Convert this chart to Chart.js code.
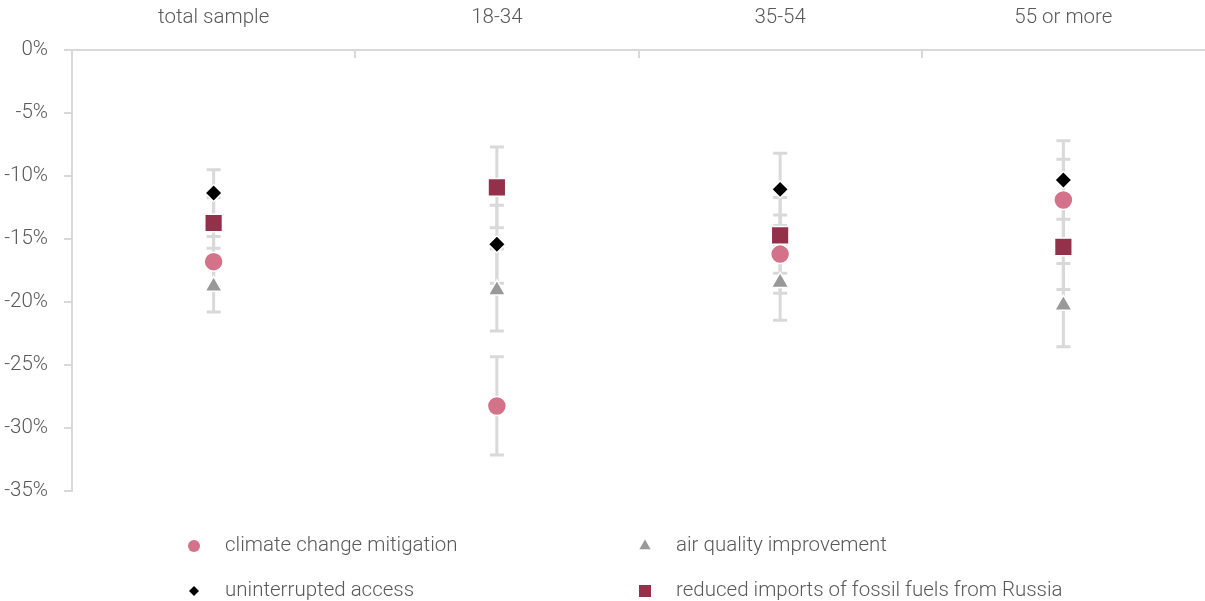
<!DOCTYPE html>
<html>
<head>
<meta charset="utf-8">
<script src="https://cdn.jsdelivr.net/npm/chart.js@4/dist/chart.umd.min.js"></script>
<style>
  html, body { margin: 0; padding: 0; background: #ffffff; overflow: hidden; }
  canvas { display: block; }
</style>
</head>
<body>
<canvas id="chart" width="1205" height="601"></canvas>
<script>
// Age groups along the top axis
const categories = ['total sample', '18-34', '35-54', '55 or more'];

// Point estimates (%) and half-widths of the confidence intervals
const climateMitigation = [-16.8, -28.25, -16.2, -11.9];
const climateMitigationErr = [2.0, 3.9, 3.1, 3.22];

const airQuality = [-18.75, -19.05, -18.45, -20.25];
const airQualityErr = [2.05, 3.25, 3.0, 3.3];

const uninterruptedAccess = [-11.35, -15.42, -11.06, -10.32];
const uninterruptedAccessErr = [1.85, 3.1, 2.86, 3.12];

const russiaImports = [-13.73, -10.9, -14.71, -15.63];
const russiaImportsErr = [2.0, 3.2, 3.0, 3.37];

const yTicks = [0, -5, -10, -15, -20, -25, -30, -35];

const FONT = 'Roboto';
const TEXT = '#595959';
const RULE = '#d9d9d9';

// Grey whiskers drawn behind the markers
const errorBars = {
  id: 'errorBars',
  beforeDatasetsDraw(chart) {
    const { ctx, scales: { x, y } } = chart;
    ctx.save();
    ctx.strokeStyle = RULE;
    ctx.lineWidth = 3;
    chart.data.datasets.forEach((ds, i) => {
      if (!chart.isDatasetVisible(i)) return;
      ds.data.forEach((v, j) => {
        const e = ds.errors[j];
        const px = x.getPixelForValue(j);
        const top = y.getPixelForValue(v + e);
        const bot = y.getPixelForValue(v - e);
        ctx.beginPath();
        ctx.moveTo(px, top); ctx.lineTo(px, bot);
        ctx.moveTo(px - 7, top); ctx.lineTo(px + 7, top);
        ctx.moveTo(px - 7, bot); ctx.lineTo(px + 7, bot);
        ctx.stroke();
      });
    });
    ctx.restore();
  }
};

// Short separators between the age groups, hanging below the top rule
const groupTicks = {
  id: 'groupTicks',
  afterDraw(chart) {
    const { ctx, chartArea, scales: { x } } = chart;
    ctx.save();
    ctx.strokeStyle = RULE;
    ctx.lineWidth = 2;
    for (let j = 1; j < categories.length; j++) {
      const px = Math.round((x.getPixelForValue(j - 1) + x.getPixelForValue(j)) / 2);
      ctx.beginPath();
      ctx.moveTo(px, chartArea.top);
      ctx.lineTo(px, chartArea.top + 8);
      ctx.stroke();
    }
    ctx.restore();
  }
};

function drawMarker(ctx, style, r, cx, cy, color) {
  ctx.fillStyle = color;
  ctx.beginPath();
  if (style === 'circle') {
    ctx.arc(cx, cy, r, 0, Math.PI * 2);
  } else if (style === 'triangle') {
    ctx.moveTo(cx, cy - r);
    ctx.lineTo(cx + r * 0.866, cy + r * 0.5);
    ctx.lineTo(cx - r * 0.866, cy + r * 0.5);
    ctx.closePath();
  } else if (style === 'rectRot') {
    ctx.moveTo(cx - r, cy); ctx.lineTo(cx, cy - r);
    ctx.lineTo(cx + r, cy); ctx.lineTo(cx, cy + r);
    ctx.closePath();
  } else {
    ctx.rect(cx - r, cy - r, 2 * r, 2 * r);
  }
  ctx.fill();
}

// Two-column legend under the plot
const gridLegend = {
  id: 'gridLegend',
  afterDraw(chart) {
    const { ctx } = chart;
    const cols = [194, 645];
    const rows = [546, 591];
    const sizes = { circle: 6, triangle: 6.5, rectRot: 5, rect: 6 };
    ctx.save();
    ctx.font = '300 20.5px ' + FONT;
    ctx.textBaseline = 'middle';
    ctx.textAlign = 'left';
    chart.data.datasets.forEach((ds, i) => {
      const cx = cols[i % 2];
      const cy = rows[Math.floor(i / 2)];
      drawMarker(ctx, ds.pointStyle, sizes[ds.pointStyle], cx, cy, ds.backgroundColor);
      ctx.fillStyle = TEXT;
      ctx.fillText(ds.label, cx + 31, cy);
    });
    ctx.restore();
  }
};

function series(label, data, errors, color, style, radius) {
  return {
    label, data, errors,
    backgroundColor: color,
    borderColor: '#ffffff',
    borderWidth: 1.5,
    pointStyle: style,
    pointRadius: radius,
    pointHoverRadius: radius,
    showLine: false
  };
}

new Chart(document.getElementById('chart'), {
  type: 'line',
  data: {
    labels: categories,
    datasets: [
      series('climate change mitigation', climateMitigation, climateMitigationErr, '#d4728a', 'circle', 9.5),
      series('air quality improvement', airQuality, airQualityErr, '#999999', 'triangle', 10),
      series('uninterrupted access', uninterruptedAccess, uninterruptedAccessErr, '#000000', 'rectRot', 8.5),
      series('reduced imports of fossil fuels from Russia', russiaImports, russiaImportsErr, '#93304a', 'rect', 12.5)
    ]
  },
  options: {
    responsive: false,
    animation: false,
    devicePixelRatio: 1,
    layout: { autoPadding: false, padding: { left: 0, right: 0, top: 0, bottom: 110 } },
    plugins: {
      legend: { display: false },
      tooltip: { enabled: false }
    },
    scales: {
      x: {
        type: 'category',
        position: 'top',
        offset: true,
        grid: { display: false },
        border: { display: true, color: RULE, width: 2 },
        ticks: {
          color: TEXT,
          font: { family: FONT, size: 20.5, weight: '300' },
          padding: 12,
          maxRotation: 0
        },
        afterFit(scale) {
          scale.height = 50;
          scale.paddingLeft = 0;
          scale.paddingRight = 0;
        }
      },
      y: {
        min: -35,
        max: 0,
        afterBuildTicks(scale) { scale.ticks = yTicks.map(v => ({ value: v })); },
        grid: { display: true, drawOnChartArea: false, drawTicks: true, tickLength: 8, color: RULE, lineWidth: 2 },
        border: { display: true, color: RULE, width: 2 },
        ticks: {
          color: TEXT,
          font: { family: FONT, size: 20.5, weight: '300' },
          padding: 16,
          callback: v => v + '%'
        },
        afterFit(scale) { scale.width = 72; }
      }
    }
  },
  plugins: [errorBars, groupTicks, gridLegend]
});
</script>
</body>
</html>
